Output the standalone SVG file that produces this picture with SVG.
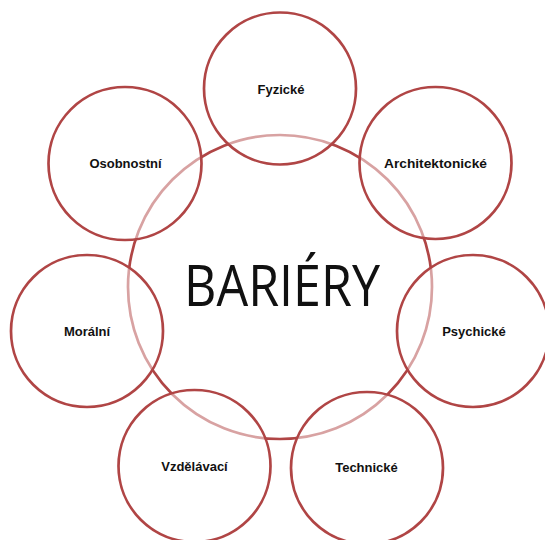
<svg xmlns="http://www.w3.org/2000/svg" width="545" height="540" viewBox="0 0 545 540">
<style>
.c{fill:#fff;fill-opacity:0.5;stroke:#b04545;stroke-width:2.7}
.m{fill:none;stroke:#b04545;stroke-width:2.7}
.t{font-family:"Liberation Sans",Arial,sans-serif;font-weight:bold;font-size:13px;fill:#111;text-anchor:middle}
.b{font-family:"Open Sans","Liberation Sans",sans-serif;font-size:56px;fill:#111;text-anchor:middle}
</style>
<rect width="545" height="540" fill="#fff"/>
<g id="connectors"/>
<g id="bariery">
<circle class="m" cx="280" cy="287" r="152"/>
<text class="b" x="282" y="306" textLength="196" lengthAdjust="spacingAndGlyphs">BARIÉRY</text>
</g>
<g id="fyzicke">
<circle class="c" cx="280" cy="88.5" r="76"/>
<text class="t" x="281" y="93.5">Fyzické</text>
</g>
<g id="architektonicke">
<circle class="c" cx="435.5" cy="163" r="76"/>
<text class="t" x="435.5" y="167.5" textLength="103" lengthAdjust="spacingAndGlyphs">Architektonické</text>
</g>
<g id="psychicke">
<circle class="c" cx="473" cy="331" r="76"/>
<text class="t" x="474" y="336">Psychické</text>
</g>
<g id="technicke">
<circle class="c" cx="367" cy="468" r="76"/>
<text class="t" x="366.5" y="471.5">Technické</text>
</g>
<g id="vzdelavaci">
<circle class="c" cx="194.5" cy="466" r="76"/>
<text class="t" x="194.5" y="470.5">Vzdělávací</text>
</g>
<g id="moralni">
<circle class="c" cx="87" cy="331" r="76"/>
<text class="t" x="87" y="336">Morální</text>
</g>
<g id="osobnostni">
<circle class="c" cx="125" cy="163.5" r="76.5"/>
<text class="t" x="125.5" y="167.5">Osobnostní</text>
</g>
</svg>
